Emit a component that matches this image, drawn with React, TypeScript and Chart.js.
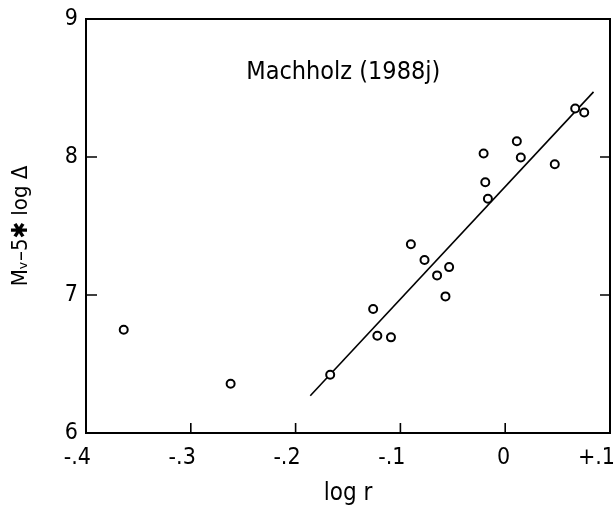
import React, { useEffect, useRef } from "react";
import { Chart, registerables } from "chart.js";

Chart.register(...registerables);

// ---- data ----
const logR = [
  -0.364, -0.262, -0.167, -0.126, -0.122, -0.109, -0.09, -0.077, -0.065, -0.057,
  -0.0535, -0.0206, -0.019, -0.0165, 0.0111, 0.0149, 0.0473, 0.0668, 0.0754,
];
const magnitude = [
  6.748, 6.357, 6.422, 6.898, 6.705, 6.693, 7.368, 7.253, 7.142, 6.99,
  7.202, 8.025, 7.817, 7.697, 8.114, 7.996, 7.948, 8.351, 8.322,
];
const fitLogR = [-0.186, 0.0843];
const fitMag = [6.27, 8.472];

const xTickValues = [-0.4, -0.3, -0.2, -0.1, 0, 0.1];
const xTickLabels = ["-.4", "-.3", "-.2", "-.1", "0", "+.1"];
const yTickValues = [6, 7, 8, 9];
const yTickLabels = ["6", "7", "8", "9"];
const innerXTicks = [-0.3, -0.2, -0.1, 0];
const innerYTicks = [7, 8];

const chartTitle = "Machholz (1988j)";
const xTitle = "log r";
const yTitle = "Mᵥ–5✱ log Δ";

const FONT = '"DejaVu Sans Condensed", "DejaVu Sans", sans-serif';

const framePlugin = {
  id: "frameAndTitle",
  afterDraw(chart: any) {
    const { ctx, chartArea, scales } = chart;
    const { left, right, top, bottom } = chartArea;
    const x = scales.x;
    const y = scales.y;
    ctx.save();
    ctx.strokeStyle = "#000";
    ctx.lineWidth = 2;
    ctx.strokeRect(left, top, right - left, bottom - top);
    ctx.lineWidth = 1.6;
    ctx.beginPath();
    for (const v of innerXTicks) {
      const px = x.getPixelForValue(v);
      ctx.moveTo(px, bottom);
      ctx.lineTo(px, bottom - 10);
    }
    for (const v of innerYTicks) {
      const py = y.getPixelForValue(v);
      ctx.moveTo(left, py);
      ctx.lineTo(left + 11, py);
      ctx.moveTo(right, py);
      ctx.lineTo(right - 10, py);
    }
    ctx.stroke();
    ctx.fillStyle = "#000";
    ctx.font = `25px ${FONT}`;
    ctx.textAlign = "center";
    ctx.textBaseline = "middle";
    ctx.fillText(chartTitle, left + 0.491 * (right - left), top + 0.13 * (bottom - top));
    ctx.restore();
  },
};

export default function App() {
  const canvasRef = useRef<HTMLCanvasElement | null>(null);

  useEffect(() => {
    document.body.style.margin = "0";
    const canvas = canvasRef.current;
    if (!canvas) return;
    const chart = new Chart(canvas, {
      type: "scatter",
      data: {
        datasets: [
          {
            type: "scatter",
            label: "obs",
            data: logR.map((v, i) => ({ x: v, y: magnitude[i] })),
            pointRadius: 4,
            pointBorderWidth: 2,
            pointBorderColor: "#000",
            pointBackgroundColor: "#fff",
            order: 0,
          },
          {
            type: "line",
            label: "fit",
            data: fitLogR.map((v, i) => ({ x: v, y: fitMag[i] })),
            borderColor: "#000",
            borderWidth: 1.6,
            pointRadius: 0,
            fill: false,
            order: 1,
          } as any,
        ],
      },
      options: {
        responsive: false,
        animation: false,
        layout: { padding: { left: 0, top: 19, right: 5, bottom: 0 } },
        plugins: {
          legend: { display: false },
          tooltip: { enabled: false },
          title: { display: false },
        },
        scales: {
          x: {
            type: "linear",
            min: -0.4,
            max: 0.1,
            grid: { display: false, drawTicks: false },
            border: { display: false },
            afterBuildTicks: (s: any) => {
              s.ticks = xTickValues.map((v) => ({ value: v }));
            },
            afterFit: (s: any) => {
              s.height = 73;
              s.paddingLeft = 0;
              s.paddingRight = 0;
            },
            ticks: {
              color: "#000",
              font: { family: FONT, size: 23 },
              padding: 11,
              align: "end",
              labelOffset: 5,
              maxRotation: 0,
              autoSkip: false,
              callback: (_v: any, i: number) => xTickLabels[i],
            },
            title: {
              display: true,
              text: xTitle,
              color: "#000",
              font: { family: FONT, size: 24, lineHeight: 1.0 },
              padding: { top: 0, bottom: 0 },
            },
          },
          y: {
            type: "linear",
            min: 6,
            max: 9,
            grid: { display: false, drawTicks: false },
            border: { display: false },
            afterBuildTicks: (s: any) => {
              s.ticks = yTickValues.map((v) => ({ value: v }));
            },
            afterFit: (s: any) => {
              s.width = 86;
              s.paddingTop = 0;
              s.paddingBottom = 0;
            },
            ticks: {
              color: "#000",
              font: { family: FONT, size: 23 },
              padding: 8,
              autoSkip: false,
              callback: (_v: any, i: number) => yTickLabels[i],
            },
            title: {
              display: true,
              text: yTitle,
              color: "#000",
              font: { family: FONT, size: 22 },
              padding: { top: 8, bottom: 0 },
            },
          },
        },
      },
      plugins: [framePlugin],
    });
    return () => chart.destroy();
  }, []);

  return (
    <div style={{ width: 616, height: 506 }}>
      <canvas ref={canvasRef} width={616} height={506} />
    </div>
  );
}
